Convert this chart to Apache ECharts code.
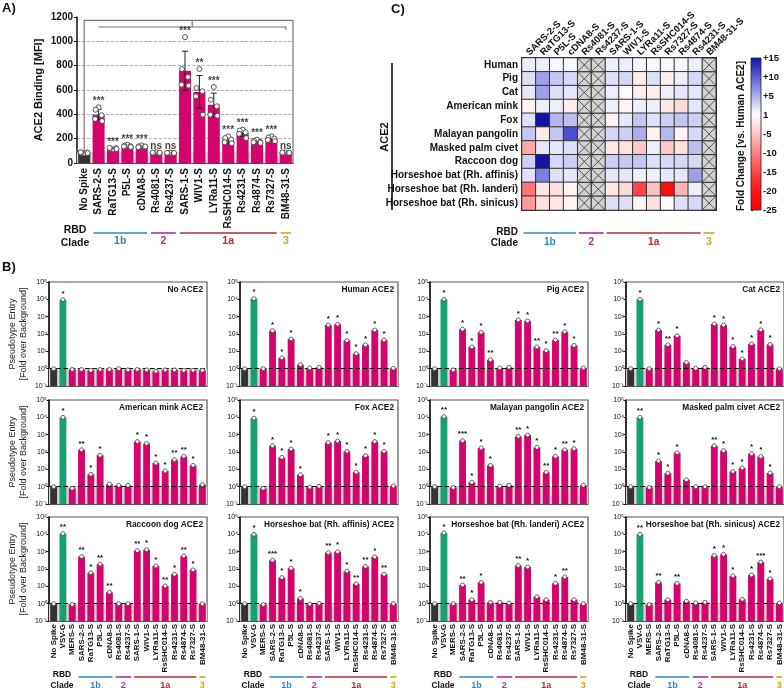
<!DOCTYPE html>
<html>
<head>
<meta charset="utf-8">
<script src="https://cdn.jsdelivr.net/npm/echarts@6/dist/echarts.min.js"></script>
<style>
html, body { margin: 0; padding: 0; background: #fff; }
#chart { width: 784px; height: 688px; }
</style>
</head>
<body>
<div id="chart"></div>
<script>
// ---------- A) ACE2 binding ----------
var bindNames = ['No Spike', 'SARS-2-S', 'RaTG13-S', 'P5L-S', 'cDNA8-S', 'Rs4081-S', 'Rs4237-S', 'SARS-1-S',
  'WIV1-S', 'LYRa11-S', 'RsSHC014-S', 'Rs4231-S', 'Rs4874-S', 'Rs7327-S', 'BM48-31-S'];
var bindMean = [84, 397, 118, 140, 136, 84, 82, 759, 584, 479, 190, 247, 177, 200, 85];
var bindSD = [3, 45, 5, 8, 6, 3, 3, 160, 135, 95, 22, 28, 11, 15, 3];
var bindReps = [
  [80, 84, 86, 88, 82],
  [458, 438, 392, 362, 345],
  [112, 118, 122, 125, 115],
  [150, 143, 138, 135, 132],
  [145, 138, 132, 130, 136],
  [88, 82, 80, 86, 84],
  [85, 80, 78, 84, 82],
  [1035, 772, 707, 644, 636],
  [772, 616, 589, 548, 397],
  [625, 520, 466, 397, 389],
  [219, 205, 192, 170, 162],
  [274, 266, 252, 240, 205],
  [192, 182, 175, 170, 165],
  [219, 210, 200, 190, 180],
  [88, 85, 82, 86, 84]
];
var bindSig = ['', '***', '***', '***', '***', 'ns', 'ns', '***', '**', '***', '***', '***', '***', '***', 'ns'];
var bindTicks = [0, 200, 400, 600, 800, 1000, 1200];

// ---------- C) heatmap, fold change vs. human ACE2 ----------
var heatCols = ['SARS-2-S', 'RaTG13-S', 'P5L-S', 'cDNA8-S', 'Rs4081-S', 'Rs4237-S', 'SARS-1-S', 'WIV1-S',
  'LYRa11-S', 'RsSHC014-S', 'Rs7327-S', 'Rs4874-S', 'Rs4231-S', 'BM48-31-S'];
var heatRows = ['Human', 'Pig', 'Cat', 'American mink', 'Fox', 'Malayan pangolin', 'Masked palm civet',
  'Raccoon dog', 'Horseshoe bat (Rh. affinis)', 'Horseshoe bat (Rh. landeri)', 'Horseshoe bat (Rh. sinicus)'];
var N = null;
var heatVals = [
  [1, 1, 0.5, 0.5, N, N, 1, 1, 0.5, 0.5, 0.5, 0.5, 1, N],
  [2, 6, 3.5, 2.5, N, N, 2, 2.5, -1.5, 2, -1.5, 1, 2.5, N],
  [1.5, 6, 2, 1.5, N, N, 1, -0.5, -1.5, -1.5, 1, 1.5, 1.5, N],
  [-1, 1, 1, -1.5, N, N, 1, -0.8, 1, 1, -2, -3, 1.5, N],
  [2, 15, 4.5, 4, N, N, -1, 1.5, 3.5, 2, 3, 3.5, 3, N],
  [3.5, -1.5, 3.5, 11, N, N, 2.5, 3, 5, -1, 4.5, -1, 2.5, N],
  [-7, 1.5, 1.5, 2, N, N, -2, -2.5, -4.5, 1, -4.5, -2.5, 4, N],
  [3, 15, 2.5, 3, N, N, 3, 3.5, 3.5, 2, 2.5, 2.5, 2.5, N],
  [2, 8, 2, 1.5, N, N, 1.5, 1.5, 1, 1, 1.5, 1.5, 6, N],
  [-11, -2, -2.5, -1, N, N, -2, -3, -15, -5, -22, -6, 1, N],
  [-8, -2.5, -2, -1, N, N, 2, 2, -1, -2.5, -0.5, 2, 2.5, N]
];
var heatMin = -25, heatMax = 15;
var heatPalette = ['#ff0000', '#ff1515', '#ff4545', '#ff8080', '#ffc2c2', '#ffffff', '#aeaeee', '#5c5cd6', '#1212a8'];

// ---------- B) pseudotype entry ----------
var entryNames = ['No Spike', 'VSV-G', 'MERS-S', 'SARS-2-S', 'RaTG13-S', 'P5L-S', 'cDNA8-S', 'Rs4081-S',
  'Rs4237-S', 'SARS-1-S', 'WIV1-S', 'LYRa11-S', 'RsSHC014-S', 'Rs4231-S', 'Rs4874-S', 'Rs7327-S', 'BM48-31-S'];
var panelTitles = ['No ACE2', 'Human ACE2', 'Pig ACE2', 'Cat ACE2', 'American mink ACE2', 'Fox ACE2',
  'Malayan pangolin ACE2', 'Masked palm civet ACE2', 'Raccoon dog ACE2', 'Horseshoe bat (Rh. affinis) ACE2',
  'Horseshoe bat (Rh. landeri) ACE2', 'Horseshoe bat (Rh. sinicus) ACE2'];
var entryNoAce2 = [1, 9500, 0.9, 0.9, 0.8, 0.9, 0.9, 1.0, 0.85, 0.9, 0.85, 0.7, 0.85, 0.85, 0.8, 0.8, 0.8];
var entryHuman = [1, 11000, 1.0, 155, 4.2, 52, 1.7, 1.1, 1.2, 330, 370, 42, 7.4, 24, 170, 45, 1.05];
var entryPig = [1, 10000, 0.85, 190, 18, 125, 3.3, 1.1, 1.2, 650, 570, 18, 11, 45, 135, 22, 1.1];
var entryCat = [1, 10000, 1.0, 170, 24, 80, 2.3, 1.05, 1.2, 380, 330, 19, 3.7, 27, 175, 25, 1.0];
var entryMink = [1, 10000, 0.8, 135, 5.2, 65, 1.4, 1.2, 1.2, 400, 310, 23, 8, 36, 56, 17, 1.3];
var entryFox = [1, 9000, 0.8, 230, 49, 150, 4.9, 0.95, 1.05, 350, 430, 110, 6.9, 62, 400, 110, 1.1];
var entryPangolin = [1, 11000, 0.9, 450, 1.8, 170, 17, 1.1, 1.2, 800, 950, 185, 6.7, 56, 135, 155, 1.2];
var entryCivet = [1, 10000, 0.9, 30, 6, 90, 2.5, 1.0, 1.0, 230, 120, 7.6, 12, 80, 55, 6.2, 1.0];
var entryRaccoon = [1, 11000, 0.9, 520, 60, 190, 4.5, 1.0, 1.0, 1150, 1300, 150, 10.5, 50, 560, 90, 1.0];
var entryAffinis = [1, 10000, 0.9, 320, 32, 110, 2.0, 0.95, 1.05, 880, 1000, 75, 14, 140, 500, 50, 1.0];
var entryLanderi = [1, 12000, 1.0, 12, 1.7, 17, 1.2, 1.2, 1.1, 160, 130, 2.5, 1.7, 15, 35, 1.7, 1.0];
var entrySinicus = [1, 10000, 0.9, 17, 1.7, 15, 1.4, 1.1, 1.2, 600, 700, 40, 1.8, 45, 250, 27, 1.1];
var entryVals = [entryNoAce2, entryHuman, entryPig, entryCat, entryMink, entryFox, entryPangolin, entryCivet,
  entryRaccoon, entryAffinis, entryLanderi, entrySinicus];

var sigNoAce2 = ['', '*', '', '', '', '', '', '', '', '', '', '', '', '', '', '', ''];
var sigHuman = ['', '*', '', '*', '*', '*', '', '', '', '*', '*', '*', '*', '*', '*', '*', ''];
var sigPig = ['', '*', '', '*', '*', '*', '**', '', '', '*', '*', '**', '*', '**', '*', '*', ''];
var sigCat = ['', '*', '', '*', '**', '*', '', '', '', '*', '*', '*', '*', '*', '*', '*', ''];
var sigMink = ['', '*', '', '**', '*', '*', '', '', '', '*', '*', '*', '*', '**', '**', '*', ''];
var sigFox = ['', '*', '', '*', '*', '*', '*', '', '', '*', '*', '*', '*', '*', '*', '*', ''];
var sigPangolin = ['', '**', '', '***', '*', '*', '*', '', '', '**', '*', '*', '**', '*', '**', '*', ''];
var sigCivet = ['', '**', '', '*', '*', '*', '', '', '', '**', '*', '*', '*', '*', '*', '*', ''];
var sigRaccoon = ['', '**', '', '**', '*', '**', '**', '', '', '**', '*', '*', '**', '*', '**', '*', ''];
var sigAffinis = ['', '*', '', '***', '*', '*', '*', '', '', '**', '*', '*', '**', '**', '*', '**', ''];
var sigLanderi = ['', '*', '', '**', '*', '*', '', '', '', '**', '*', '', '', '*', '**', '', ''];
var sigSinicus = ['', '**', '', '**', '', '**', '', '', '', '*', '*', '*', '', '*', '***', '*', ''];
var entrySig = [sigNoAce2, sigHuman, sigPig, sigCat, sigMink, sigFox, sigPangolin, sigCivet,
  sigRaccoon, sigAffinis, sigLanderi, sigSinicus];

// clades
var cladeOf = {
  'SARS-2-S': '1b', 'RaTG13-S': '1b', 'P5L-S': '1b', 'cDNA8-S': '1b',
  'Rs4081-S': '2', 'Rs4237-S': '2',
  'SARS-1-S': '1a', 'WIV1-S': '1a', 'LYRa11-S': '1a', 'RsSHC014-S': '1a', 'Rs4231-S': '1a',
  'Rs4874-S': '1a', 'Rs7327-S': '1a', 'BM48-31-S': '3'
};
var cladeColors = { '1b': '#2f8ac4', '2': '#a8339c', '1a': '#b52b2b', '3': '#c9a81a' };

var FONT = '"Liberation Sans", Arial, sans-serif';
var INK = '#111';
var C_BLACK = '#333333', C_GREEN = '#18a06e', C_MAG = '#d4046c';

function cladeRanges(names) {
  var out = [];
  names.forEach(function (n, i) {
    var c = cladeOf[n];
    if (!c) return;
    var last = out[out.length - 1];
    if (last && last[2] === c && last[1] === i - 1) last[1] = i;
    else out.push([i, i, c]);
  });
  return out;
}

function cladeSeries(xi, yi, names, lineY, textY, yVal, gap, fs) {
  var ranges = cladeRanges(names);
  return {
    type: 'custom', xAxisIndex: xi, yAxisIndex: yi, clip: false, silent: true, z: 5,
    data: ranges.map(function (r, k) { return [r[0], yVal, k]; }),
    renderItem: function (params, api) {
      var r = ranges[api.value(2)];
      var band = api.size([1, yVal])[0];
      var x0 = api.coord([r[0], yVal])[0] - band / 2 + gap;
      var x1 = api.coord([r[1], yVal])[0] + band / 2 - gap;
      var col = cladeColors[r[2]];
      return {
        type: 'group', children: [
          { type: 'line', shape: { x1: x0, y1: lineY, x2: x1, y2: lineY }, style: { stroke: col, lineWidth: 1.6 } },
          { type: 'text', x: (x0 + x1) / 2, y: textY,
            style: { text: r[2], fill: col, font: 'bold ' + fs + 'px ' + FONT, align: 'center', verticalAlign: 'middle' } }
        ]
      };
    }
  };
}

var grids = [], xAxes = [], yAxes = [], series = [], titles = [], graphics = [];

// ===== Panel A =====
var gA = { left: 77, top: 17, width: 216, height: 146 };
grids.push({ left: gA.left, top: gA.top, width: gA.width, height: gA.height, outerBoundsMode: 'none' });
xAxes.push({
  gridIndex: 0, type: 'category', data: bindNames,
  axisLine: { lineStyle: { color: INK, width: 1.5 } }, axisTick: { show: false },
  axisLabel: { interval: 0, rotate: 90, fontSize: 10, fontWeight: 'bold', color: INK, margin: 5, fontFamily: FONT }
});
yAxes.push({
  gridIndex: 0, type: 'value', min: bindTicks[0], max: bindTicks[bindTicks.length - 1], interval: bindTicks[1] - bindTicks[0],
  name: 'ACE2 Binding [MFI]', nameLocation: 'middle', nameGap: 33, nameMoveOverlap: false,
  nameTextStyle: { fontSize: 11, fontWeight: 'bold', color: INK, fontFamily: FONT },
  axisLine: { show: true, lineStyle: { color: INK, width: 1.5 } },
  axisTick: { show: true, length: 3, lineStyle: { color: INK } },
  axisLabel: { fontSize: 10, fontWeight: 'bold', color: INK, margin: 4, fontFamily: FONT,
    formatter: function (v) { return String(v); } },
  splitLine: { show: true, showMinLine: false, showMaxLine: false, lineStyle: { type: 'dashed', color: '#9a9a9a', width: 0.8 } }
});
series.push({
  type: 'bar', xAxisIndex: 0, yAxisIndex: 0, barWidth: 12, z: 2,
  data: bindMean.map(function (v, i) { return { value: v, itemStyle: { color: i === 0 ? C_BLACK : C_MAG } }; }),
  markArea: { silent: true, itemStyle: { color: '#d9d9d9' }, data: [[{ yAxis: 0 }, { yAxis: bindMean[0] + 4 }]] }
});
// error bars
series.push({
  type: 'custom', xAxisIndex: 0, yAxisIndex: 0, z: 3, silent: true,
  data: bindMean.map(function (v, i) { return [i, v, bindSD[i]]; }),
  renderItem: function (params, api) {
    var i = api.value(0), m = api.value(1), s = api.value(2);
    var hi = api.coord([i, m + s]), lo = api.coord([i, m - s]);
    var st = { stroke: '#222', lineWidth: 1 };
    return { type: 'group', children: [
      { type: 'line', shape: { x1: hi[0], y1: hi[1], x2: lo[0], y2: lo[1] }, style: st },
      { type: 'line', shape: { x1: hi[0] - 3, y1: hi[1], x2: hi[0] + 3, y2: hi[1] }, style: st },
      { type: 'line', shape: { x1: lo[0] - 3, y1: lo[1], x2: lo[0] + 3, y2: lo[1] }, style: st }
    ] };
  }
});
// replicate points
var jitter = [0, -3, 3, -3.5, 3.5];
var repData = [];
bindReps.forEach(function (reps, i) { reps.forEach(function (v, k) { repData.push([i, v, k]); }); });
series.push({
  type: 'custom', xAxisIndex: 0, yAxisIndex: 0, z: 4, silent: true, data: repData,
  renderItem: function (params, api) {
    var p = api.coord([api.value(0), api.value(1)]);
    return { type: 'circle', shape: { cx: p[0] + jitter[api.value(2)], cy: p[1], r: 2.5 },
      style: { fill: '#fff', stroke: '#444', lineWidth: 0.9 } };
  }
});
// significance labels
series.push({
  type: 'scatter', xAxisIndex: 0, yAxisIndex: 0, symbolSize: 0, z: 5, silent: true,
  data: bindMean.map(function (m, i) { return [i, Math.max(m + bindSD[i], Math.max.apply(null, bindReps[i]))]; }),
  label: { show: true, position: 'top', distance: 1, fontSize: 10, fontWeight: 'bold', color: INK, fontFamily: FONT,
    formatter: function (p) { return bindSig[p.dataIndex]; } }
});
// comparison brackets
series.push({
  type: 'custom', xAxisIndex: 0, yAxisIndex: 0, z: 3, silent: true, clip: false, data: [[0, 0]],
  renderItem: function (params, api) {
    var band = api.size([1, 0])[0];
    var last = bindNames.length - 1;
    var a0 = api.coord([0, bindMean[0] + 10]), a1 = api.coord([0, 1172]);
    var right = api.coord([last, 0])[0] + band / 2;
    var bottom = api.coord([last, 0])[1];
    var b0 = api.coord([1, 1118]), b1 = api.coord([last, 1118]);
    var mid = api.coord([7, 1118])[0] + band / 2;
    var st = { stroke: '#777', lineWidth: 1.2, fill: null };
    return { type: 'group', children: [
      { type: 'polyline', shape: { points: [a0, a1, [right, a1[1]], [right, bottom]] }, style: st },
      { type: 'polyline', shape: { points: [b0, [b1[0], b1[1]], [b1[0], b1[1] + 3]] }, style: st },
      { type: 'line', shape: { x1: mid, y1: a1[1], x2: mid, y2: b0[1] }, style: st }
    ] };
  }
});
series.push(cladeSeries(0, 0, bindNames, 233, 241, 0, 2, 10.5));

// ===== Panel C heatmap =====
var gC = { left: 522, top: 58, width: 194, height: 152 };
grids.push({ left: gC.left, top: gC.top, width: gC.width, height: gC.height, show: true, borderColor: '#222', borderWidth: 2, outerBoundsMode: 'none' });
xAxes.push({
  gridIndex: 1, type: 'category', position: 'top', data: heatCols,
  axisLine: { show: false }, axisTick: { show: false }, splitLine: { show: false }, axisLabel: { show: false }
});
yAxes.push({
  gridIndex: 1, type: 'category', inverse: true, data: heatRows,
  axisLine: { show: false }, axisTick: { show: false }, splitLine: { show: false },
  axisLabel: { interval: 0, fontSize: 10, fontWeight: 'bold', color: INK, margin: 4, fontFamily: FONT }
});
var heatData = [], naData = [];
heatVals.forEach(function (row, r) {
  row.forEach(function (v, c) {
    if (v === null) naData.push([c, r]); else heatData.push([c, r, v]);
  });
});
var heatSeriesIndex = series.length;
series.push({
  type: 'heatmap', xAxisIndex: 1, yAxisIndex: 1, data: heatData, silent: true,
  itemStyle: { borderColor: '#333', borderWidth: 1 }
});
series.push({
  type: 'custom', xAxisIndex: 1, yAxisIndex: 1, data: naData, silent: true, z: 3,
  renderItem: function (params, api) {
    var c = api.coord([api.value(0), api.value(1)]);
    var s = api.size([1, 1]);
    var x = c[0] - s[0] / 2, y = c[1] - s[1] / 2;
    var st = { stroke: '#333', lineWidth: 0.8 };
    return { type: 'group', children: [
      { type: 'rect', shape: { x: x, y: y, width: s[0], height: s[1] }, style: { fill: '#d2d2d2', stroke: '#333', lineWidth: 1 } },
      { type: 'line', shape: { x1: x, y1: y, x2: x + s[0], y2: y + s[1] }, style: st },
      { type: 'line', shape: { x1: x + s[0], y1: y, x2: x, y2: y + s[1] }, style: st }
    ] };
  }
});
// slanted column labels above the heatmap
series.push({
  type: 'custom', xAxisIndex: 1, yAxisIndex: 1, clip: false, silent: true, z: 5,
  data: heatCols.map(function (n, i) { return [i, 0]; }),
  renderItem: function (params, api) {
    var i = api.value(0);
    var c = api.coord([i, 0]);
    var s = api.size([1, 1]);
    return { type: 'text', x: c[0] - 1, y: c[1] - s[1] / 2 - 4, rotation: Math.PI / 4,
      style: { text: heatCols[i], font: 'bold 9.5px ' + FONT, fill: INK, align: 'left', verticalAlign: 'middle' } };
  }
});
series.push(cladeSeries(1, 1, heatCols, 233, 242, 0, 1.5, 10));

// ===== colour bar =====
var gK = { left: 751, top: 58, width: 10, height: 152 };
grids.push({ left: gK.left, top: gK.top, width: gK.width, height: gK.height, outerBoundsMode: 'none' });
xAxes.push({ gridIndex: 2, type: 'value', min: 0, max: 1, show: false });
yAxes.push({
  gridIndex: 2, type: 'value', min: heatMin, max: heatMax, interval: 5, position: 'right',
  axisLine: { show: false }, splitLine: { show: false },
  axisTick: { show: true, length: 2, lineStyle: { color: '#222' } },
  axisLabel: { fontSize: 9.5, fontWeight: 'bold', color: INK, margin: 2, fontFamily: FONT,
    formatter: function (v) { return v > 0 ? '+' + v : (v === 0 ? '1' : String(v)); } }
});
series.push({
  type: 'custom', xAxisIndex: 2, yAxisIndex: 2, data: [[0, heatMax]], silent: true,
  renderItem: function (params, api) {
    var p0 = api.coord([0, heatMax]), p1 = api.coord([1, heatMin]);
    var stops = heatPalette.slice().reverse().map(function (c, k) { return { offset: k / (heatPalette.length - 1), color: c }; });
    return { type: 'rect', shape: { x: p0[0], y: p0[1], width: p1[0] - p0[0], height: p1[1] - p0[1] },
      style: { fill: new echarts.graphic.LinearGradient(0, 0, 0, 1, stops), stroke: '#222', lineWidth: 0.8 } };
  }
});

// ===== Panel B =====
var colLeft = [49, 240, 430, 626], rowTop = [282, 400, 517];
var bW = 158, bH = 104;
var supMap = { '-': '\u207B', '0': '\u2070', '1': '\u00B9', '2': '\u00B2', '3': '\u00B3', '4': '\u2074', '5': '\u2075' };
function logLabel(v) {
  var e = String(Math.round(Math.log10(v)));
  return '10' + e.split('').map(function (ch) { return supMap[ch]; }).join('');
}
entryVals.forEach(function (vals, p) {
  var row = Math.floor(p / 4), col = p % 4;
  var gi = grids.length;
  var left = colLeft[col], top = rowTop[row];
  grids.push({ left: left, top: top, width: bW, height: bH, show: true, borderColor: '#555', borderWidth: 1.2, outerBoundsMode: 'none' });
  xAxes.push({
    gridIndex: gi, type: 'category', data: entryNames,
    axisLine: { lineStyle: { color: '#555', width: 1.2 } }, axisTick: { show: false },
    axisLabel: { show: row === 2, interval: 0, rotate: 90, fontSize: 8, fontWeight: 'bold', color: INK, margin: 3, fontFamily: FONT }
  });
  yAxes.push({
    gridIndex: gi, type: 'log', logBase: 10, min: 0.1, max: 100000,
    name: col === 0 ? 'Pseudotype Entry\n[Fold over Background]' : '', nameLocation: 'middle', nameGap: 20, nameMoveOverlap: false,
    nameTextStyle: { fontSize: 9, color: '#222', fontFamily: FONT, lineHeight: 11 },
    axisLine: { show: true, lineStyle: { color: INK, width: 1.5 } },
    axisTick: { show: true, length: 2.5, lineStyle: { color: INK } },
    splitLine: { show: false },
    axisLabel: { fontSize: 7, color: INK, margin: 2, fontFamily: FONT, formatter: logLabel }
  });
  series.push({
    type: 'custom', xAxisIndex: gi, yAxisIndex: gi, z: 2, silent: true,
    data: vals.map(function (v, i) { return [i, v]; }),
    renderItem: function (params, api) {
      var i = api.value(0);
      var t = api.coord([i, api.value(1)]), b = api.coord([i, 0.1]);
      var w = api.size([1, 1])[0] * 0.74;
      return { type: 'rect', shape: { x: t[0] - w / 2, y: t[1], width: w, height: b[1] - t[1] },
        style: { fill: i === 0 ? C_BLACK : (i === 1 ? C_GREEN : C_MAG) } };
    }
  });
  var sig = entrySig[p];
  series.push({
    type: 'scatter', xAxisIndex: gi, yAxisIndex: gi, z: 6, silent: true, symbol: 'circle', symbolSize: 4,
    itemStyle: { color: '#fff', borderColor: '#444', borderWidth: 0.8, opacity: 1 },
    data: vals.map(function (v, i) { return [i, v]; }),
    label: { show: true, position: 'top', distance: 0, fontSize: 8, fontWeight: 'bold', color: INK, fontFamily: FONT,
      formatter: function (q) { return sig[q.dataIndex]; } },
    markArea: { silent: true, itemStyle: { color: '#d4d4d4' }, data: [[{ yAxis: 0.1 }, { yAxis: 1 }]] },
    markLine: { silent: true, symbol: 'none', label: { show: false },
      lineStyle: { type: 'dashed', color: INK, width: 1.2 }, data: [{ yAxis: 1 }] }
  });
  titles.push({ text: panelTitles[p], right: 784 - (left + bW) + 4, top: top + 4, padding: 0,
    textStyle: { fontSize: 8.3, fontWeight: 'bold', color: INK, fontFamily: FONT } });
  if (row === 2) {
    series.push(cladeSeries(gi, gi, entryNames, 677, 686, 1, 1.5, 9));
    graphics.push({ type: 'text', x: left + 13, y: 675, style: { text: 'RBD', font: 'bold 8.5px ' + FONT, fill: INK, align: 'center', verticalAlign: 'middle' } });
    graphics.push({ type: 'text', x: left + 13, y: 686, style: { text: 'Clade', font: 'bold 8.5px ' + FONT, fill: INK, align: 'center', verticalAlign: 'middle' } });
  }
});

// ===== static texts =====
function txt(x, y, s, font, align, rot) {
  return { type: 'text', x: x, y: y, rotation: rot || 0,
    style: { text: s, font: font, fill: INK, align: align || 'left', verticalAlign: 'middle' } };
}
graphics.push(txt(2, 8, 'A)', 'bold 13px ' + FONT));
graphics.push(txt(2, 267, 'B)', 'bold 13px ' + FONT));
graphics.push(txt(391, 9, 'C)', 'bold 13px ' + FONT));
graphics.push(txt(75, 230, 'RBD', 'bold 10.5px ' + FONT, 'center'));
graphics.push(txt(75, 243, 'Clade', 'bold 10.5px ' + FONT, 'center'));
graphics.push(txt(518, 232, 'RBD', 'bold 10px ' + FONT, 'right'));
graphics.push(txt(518, 243, 'Clade', 'bold 10px ' + FONT, 'right'));
graphics.push(txt(385, 137, 'ACE2', 'bold 11px ' + FONT, 'center', Math.PI / 2));
graphics.push({ type: 'line', shape: { x1: 392, y1: 63, x2: 392, y2: 210 }, style: { stroke: INK, lineWidth: 1.6 } });
graphics.push(txt(741, 136, 'Fold Change [vs. Human ACE2]', 'bold 10px ' + FONT, 'center', Math.PI / 2));

var chart = echarts.init(document.getElementById('chart'), null, { renderer: 'canvas' });
chart.setOption({
  animation: false,
  backgroundColor: '#fff',
  textStyle: { fontFamily: FONT },
  title: titles,
  grid: grids,
  xAxis: xAxes,
  yAxis: yAxes,
  visualMap: {
    type: 'continuous', show: false, min: heatMin, max: heatMax, dimension: 2,
    seriesIndex: heatSeriesIndex, inRange: { color: heatPalette }
  },
  graphic: graphics,
  series: series
});
</script>
</body>
</html>
